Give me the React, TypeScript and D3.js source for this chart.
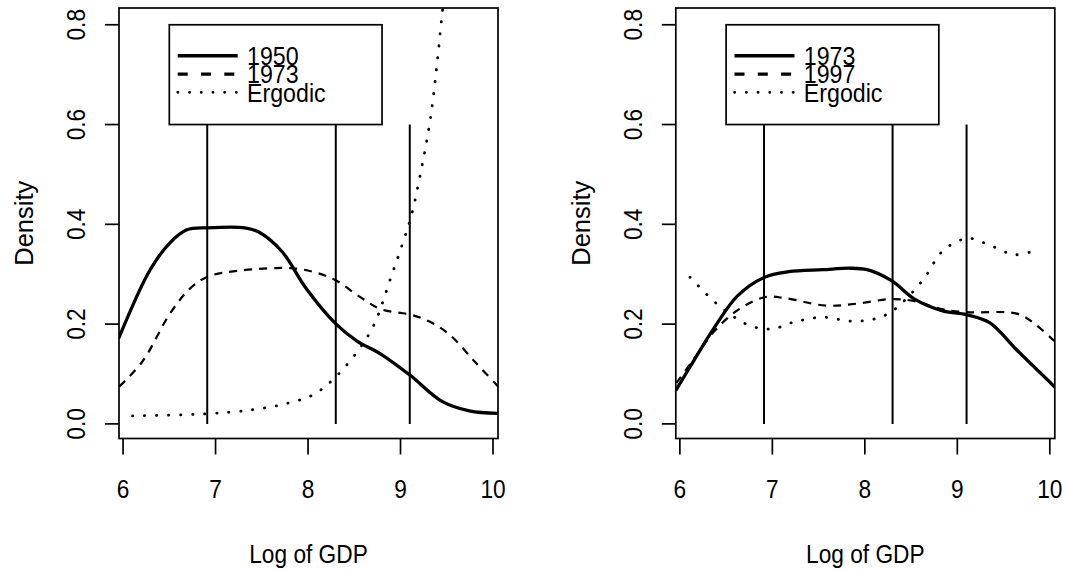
import React from "react";
import * as d3 from "d3";

// axis ticks
const xTicks = [6, 7, 8, 9, 10];
const yTicks = [0, 0.2, 0.4, 0.6, 0.8];

// vertical reference lines (log GDP cut points)
const cutPoints = [6.91, 8.3, 9.1];

// left panel: 1950, 1973, ergodic
const leftX1950 = [5.956, 6.29, 6.507, 6.69, 6.915, 7.316, 7.463, 7.72, 7.978, 8.298, 8.53, 8.787, 9.107, 9.449, 9.743, 10.055];
const leftY1950 = [0.173, 0.308, 0.363, 0.389, 0.393, 0.393, 0.385, 0.345, 0.272, 0.201, 0.166, 0.14, 0.097, 0.045, 0.026, 0.021];
const leftX1973 = [5.96, 6.213, 6.507, 6.728, 6.915, 7.242, 7.83, 8.088, 8.298, 8.566, 8.787, 9.107, 9.302, 9.523, 9.817, 10.055];
const leftY1973 = [0.075, 0.126, 0.221, 0.272, 0.295, 0.307, 0.312, 0.303, 0.288, 0.254, 0.23, 0.219, 0.206, 0.18, 0.122, 0.075];
const leftXErg = [6.103, 6.875, 7.426, 7.794, 8.052, 8.254, 8.53, 8.714, 8.897, 9.045, 9.118, 9.228, 9.32, 9.393, 9.449, 9.5];
const leftYErg = [0.016, 0.02, 0.029, 0.042, 0.058, 0.086, 0.144, 0.199, 0.294, 0.374, 0.418, 0.513, 0.608, 0.718, 0.82, 0.9];

// right panel: 1973, 1997, ergodic
const rightX1973 = [5.963, 6.148, 6.369, 6.626, 6.916, 7.177, 7.545, 7.839, 8.024, 8.289, 8.538, 8.833, 9.098, 9.349, 9.643, 10.048];
const rightY1973 = [0.069, 0.126, 0.192, 0.257, 0.294, 0.305, 0.309, 0.312, 0.309, 0.287, 0.25, 0.227, 0.219, 0.203, 0.148, 0.075];
const rightX1997 = [5.963, 6.148, 6.369, 6.626, 6.916, 7.14, 7.582, 7.913, 8.28, 8.538, 8.833, 9.098, 9.643, 9.82, 10.048];
const rightY1997 = [0.082, 0.129, 0.185, 0.228, 0.254, 0.252, 0.237, 0.241, 0.25, 0.246, 0.23, 0.224, 0.221, 0.203, 0.166];
const rightXErg = [6.11, 6.405, 6.741, 6.993, 7.214, 7.545, 7.839, 8.097, 8.28, 8.465, 8.649, 8.833, 9.016, 9.136, 9.378, 9.624, 9.864];
const rightYErg = [0.294, 0.24, 0.198, 0.19, 0.203, 0.214, 0.206, 0.21, 0.224, 0.254, 0.294, 0.345, 0.367, 0.372, 0.356, 0.339, 0.349];

const leftLabels = ["1950", "1973", "Ergodic"];
const rightLabels = ["1973", "1997", "Ergodic"];

const FONT = "'Liberation Sans', Arial, Helvetica, sans-serif";
const FS = 25.5;

// line styles (solid, dashed, dotted)
const curveStyles = [
  { w: 3.3, dash: null, cap: "round" },
  { w: 2.2, dash: "8 7", cap: "butt" },
  { w: 2.8, dash: "0.3 11.7", cap: "round" },
];
const legendStyles = [
  { w: 3.3, dash: null, cap: "butt" },
  { w: 3.3, dash: "10 13.3", cap: "butt" },
  { w: 2.6, dash: "0.3 11.4", cap: "round" },
];

function Label({ x, y, rotate = 0, squeeze = 0.89, anchor = "middle", children }) {
  return (
    <text
      transform={`translate(${x},${y}) rotate(${rotate}) scale(${squeeze},1)`}
      textAnchor={anchor}
      fontFamily={FONT}
      fontSize={FS}
      fill="#000"
    >
      {children}
    </text>
  );
}

function Panel({ id, left, series, labels }) {
  const width = 379;
  const top = 8;
  const bottom = 438.5;
  const x = d3.scaleLinear().domain([5.956, 10.054]).range([left, left + width]);
  const y = d3.scaleLinear().domain([-0.0293, 0.8336]).range([bottom, top]);

  const line = d3
    .line()
    .x((d) => x(d[0]))
    .y((d) => y(d[1]))
    .curve(d3.curveCatmullRom.alpha(0.5));

  const cx = left + width / 2;
  const cy = (top + bottom) / 2;

  // legend box spans 6.5..8.8 and 0.6..0.8 in data units
  const lgX = x(6.5);
  const lgY = y(0.8);
  const lgW = x(8.8) - x(6.5);
  const lgH = y(0.6) - y(0.8);

  return (
    <g>
      <defs>
        <clipPath id={id}>
          <rect x={left} y={top} width={width} height={bottom - top} />
        </clipPath>
      </defs>

      {/* density curves */}
      <g clipPath={`url(#${id})`}>
        {series.map((s, i) => (
          <path
            key={i}
            d={line(d3.zip(s[0], s[1]))}
            fill="none"
            stroke="#000"
            strokeWidth={curveStyles[i].w}
            strokeDasharray={curveStyles[i].dash || undefined}
            strokeLinecap={curveStyles[i].cap}
            strokeLinejoin="round"
          />
        ))}
      </g>

      {/* cut point lines */}
      {cutPoints.map((c) => (
        <line key={c} x1={x(c)} x2={x(c)} y1={y(0)} y2={y(0.6)} stroke="#000" strokeWidth={2} />
      ))}

      {/* legend */}
      <rect x={lgX} y={lgY} width={lgW} height={lgH} fill="#fff" stroke="#000" strokeWidth={1.7} />
      {labels.map((lab, i) => {
        const ly = lgY + 31 + i * 18.3;
        return (
          <g key={lab}>
            <line
              x1={lgX + 8.4}
              x2={lgX + 68.4}
              y1={ly}
              y2={ly}
              stroke="#000"
              strokeWidth={legendStyles[i].w}
              strokeDasharray={legendStyles[i].dash || undefined}
              strokeLinecap={legendStyles[i].cap}
            />
            <Label x={lgX + 77.7} y={ly + 9.3} anchor="start" squeeze={0.91}>
              {lab}
            </Label>
          </g>
        );
      })}

      {/* box */}
      <rect x={left} y={top} width={width} height={bottom - top} fill="none" stroke="#000" strokeWidth={1.7} />

      {/* x axis */}
      {xTicks.map((t) => (
        <g key={t}>
          <line x1={x(t)} x2={x(t)} y1={bottom} y2={bottom + 16} stroke="#000" strokeWidth={1.7} />
          <Label x={x(t)} y={498}>{String(t)}</Label>
        </g>
      ))}

      {/* y axis */}
      {yTicks.map((t) => (
        <g key={t}>
          <line x1={left - 14} x2={left} y1={y(t)} y2={y(t)} stroke="#000" strokeWidth={1.7} />
          <Label x={left - 34} y={y(t)} rotate={-90}>{d3.format(".1f")(t)}</Label>
        </g>
      ))}

      <Label x={cx} y={563}>Log of GDP</Label>
      <Label x={left - 86} y={cy} rotate={-90} squeeze={1}>Density</Label>
    </g>
  );
}

export default function App() {
  return (
    <svg
      width={1067}
      height={572}
      style={{ position: "absolute", left: 0, top: 0, background: "#fff" }}
    >
      <rect width={1067} height={572} fill="#fff" />
      <Panel
        id="clipL"
        left={119}
        series={[
          [leftX1950, leftY1950],
          [leftX1973, leftY1973],
          [leftXErg, leftYErg],
        ]}
        labels={leftLabels}
      />
      <Panel
        id="clipR"
        left={675.8}
        series={[
          [rightX1973, rightY1973],
          [rightX1997, rightY1997],
          [rightXErg, rightYErg],
        ]}
        labels={rightLabels}
      />
    </svg>
  );
}
